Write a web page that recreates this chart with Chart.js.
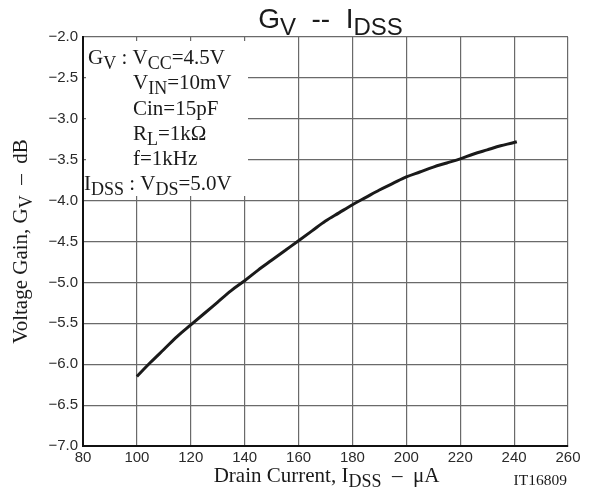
<!DOCTYPE html>
<html>
<head>
<meta charset="utf-8">
<script src="https://cdn.jsdelivr.net/npm/chart.js@4"></script>
<style>
  html, body { margin: 0; padding: 0; background: #fff; }
  #wrap { width: 590px; height: 495px; position: relative; }
</style>
</head>
<body>
<div id="wrap"><canvas id="myChart"></canvas></div>
<script>
const ctx = document.getElementById('myChart').getContext('2d');

// drain current IDSS (uA) and voltage gain GV (dB)
const currents = [100, 105, 110, 115, 120, 125, 130, 135, 140, 145, 150, 155, 160, 165, 170,
  175, 180, 185, 190, 195, 200, 205, 210, 215, 220, 225, 230, 235, 240, 241];
const gains = [-6.15, -5.98, -5.82, -5.66, -5.52, -5.38, -5.24, -5.10, -4.98, -4.85, -4.73, -4.61, -4.49, -4.37, -4.25,
  -4.15, -4.05, -3.96, -3.87, -3.79, -3.71, -3.65, -3.59, -3.54, -3.49, -3.43, -3.38, -3.33, -3.29, -3.28];

const xTicks = [80, 100, 120, 140, 160, 180, 200, 220, 240, 260];
const yTicks = [-2.0, -2.5, -3.0, -3.5, -4.0, -4.5, -5.0, -5.5, -6.0, -6.5, -7.0];

const serif = '"Liberation Serif", "Times New Roman", serif';
const sans = '"Liberation Sans", Arial, sans-serif';

// draws text made of [string, isSubscript] parts
function drawRich(c, parts, x, y, size, family, align) {
  const subSize = Math.round(size * 0.85);
  let w = 0;
  parts.forEach(p => {
    c.font = (p[1] ? subSize : size) + 'px ' + family;
    w += c.measureText(p[0]).width;
  });
  let cx = x;
  if (align === 'center') cx = x - w / 2;
  if (align === 'right') cx = x - w;
  c.textAlign = 'left';
  c.textBaseline = 'alphabetic';
  parts.forEach(p => {
    c.font = (p[1] ? subSize : size) + 'px ' + family;
    c.fillText(p[0], cx, y + (p[1] ? size * 0.25 : 0));
    cx += c.measureText(p[0]).width;
  });
}

const annotations = {
  id: 'annotations',
  beforeDatasetsDraw(chart) {
    const c = chart.ctx;
    const a = chart.chartArea;
    // white box for the conditions note
    c.save();
    c.fillStyle = '#fff';
    c.fillRect(a.left + 3, a.top + 4, 162, 155);
    c.restore();
  },
  afterDraw(chart) {
    const c = chart.ctx;
    const a = chart.chartArea;
    c.save();
    c.fillStyle = '#1a1a1a';
    const mid = (a.left + a.right) / 2;
    // title
    drawRich(c, [['G', false], ['V', true], ['  --  ', false], ['I', false], ['DSS', true]], mid + 5, 28, 28, sans, 'center');
    // conditions
    const L = a.left;
    const fs = 21;
    drawRich(c, [['G', false], ['V', true], [' : V', false], ['CC', true], ['=4.5V', false]], L + 5, 64, fs, serif, 'left');
    drawRich(c, [['V', false], ['IN', true], ['=10mV', false]], L + 50, 89, fs, serif, 'left');
    drawRich(c, [['Cin=15pF', false]], L + 50, 114.5, fs, serif, 'left');
    drawRich(c, [['R', false], ['L', true], ['=1k\u03A9', false]], L + 50, 140, fs, serif, 'left');
    drawRich(c, [['f=1kHz', false]], L + 50, 165, fs, serif, 'left');
    drawRich(c, [['I', false], ['DSS', true], [' : V', false], ['DS', true], ['=5.0V', false]], L + 1, 190, fs, serif, 'left');
    // x axis title
    drawRich(c, [['Drain Current, I', false], ['DSS', true], ['  \u2013  \u03BCA', false]], mid + 1, 482, 21, serif, 'center');
    drawRich(c, [['IT16809', false]], a.right - 1, 485, 15.5, serif, 'right');
    // y axis title
    c.translate(27, (a.top + a.bottom) / 2);
    c.rotate(-Math.PI / 2);
    drawRich(c, [['Voltage Gain, G', false], ['V', true], ['  \u2013  dB', false]], 0, 0, 21, serif, 'center');
    c.restore();
  }
};

const myChart = new Chart(ctx, {
  type: 'line',
  data: {
    datasets: [{
      data: currents.map((x, i) => ({x: x, y: gains[i]})),
      borderColor: '#1a1a1a',
      borderWidth: 3,
      pointRadius: 0,
      cubicInterpolationMode: 'monotone',
      fill: false,
    }]
  },
  options: {
    responsive: true,
    maintainAspectRatio: false,
    animation: false,
    layout: {
      padding: {top: 37, right: 22, left: 0, bottom: 0}
    },
    plugins: {
      legend: {display: false},
      tooltip: {enabled: false},
    },
    scales: {
      x: {
        type: 'linear',
        min: 80,
        max: 260,
        afterBuildTicks: (scale) => { scale.ticks = xTicks.map(v => ({value: v})); },
        afterFit: (scale) => { scale.height = 49; },
        grid: {color: '#6a6a6a', lineWidth: 1.2, drawTicks: false},
        border: {color: '#111', width: 2},
        ticks: {
          color: '#2a2a2a',
          padding: 3,
          maxRotation: 0,
          font: {family: sans, size: 15},
        }
      },
      y: {
        min: -7,
        max: -2,
        afterBuildTicks: (scale) => { scale.ticks = yTicks.map(v => ({value: v})); },
        afterFit: (scale) => { scale.width = 83; },
        grid: {color: '#6a6a6a', lineWidth: 1.2, drawTicks: false},
        border: {color: '#111', width: 2},
        ticks: {
          color: '#2a2a2a',
          padding: 5,
          font: {family: sans, size: 15},
          callback: (v) => (v < 0 ? '\u2212' : '') + Math.abs(v).toFixed(1),
        }
      }
    }
  },
  plugins: [annotations]
});
</script>
</body>
</html>
